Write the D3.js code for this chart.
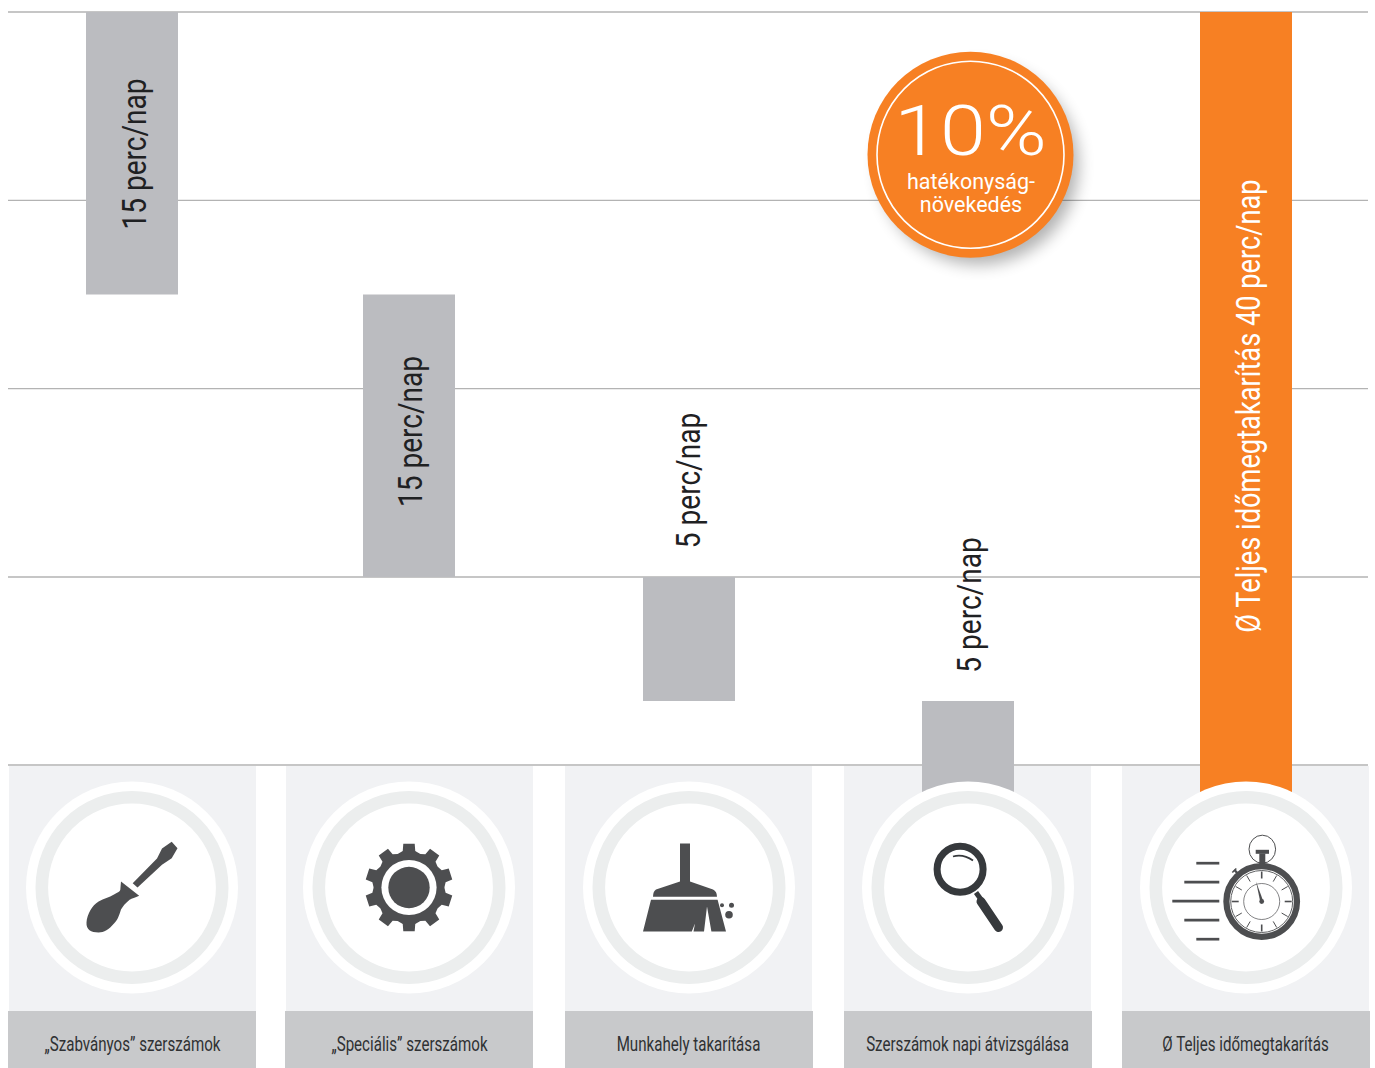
<!DOCTYPE html>
<html>
<head>
<meta charset="utf-8">
<script src="https://cdn.jsdelivr.net/npm/d3@7"></script>
<style>
    html, body { margin: 0; padding: 0; background: #fff; }
    svg { display: block; }
    .narrow { font-family: "Roboto", "Liberation Sans", sans-serif; }
    .badge { font-family: "Roboto", "Liberation Sans", sans-serif; fill: #fff; text-anchor: middle; }
</style>
</head>
<body>
<svg id="chart"></svg>
<script>
const categories = ["„Szabványos” szerszámok", "„Speciális” szerszámok", "Munkahely takarítása", "Szerszámok napi átvizsgálása", "Ø Teljes időmegtakarítás"];
const barTop = [40, 25, 10, 5, 40];
const barBottom = [25, 10, 5, 0, 0];
const barLabels = ["15 perc/nap", "15 perc/nap", "5 perc/nap", "5 perc/nap", "Ø Teljes időmegtakarítás 40 perc/nap"];
const gridValues = [0, 10, 20, 30, 40];

function initChart() {
    const width = 1375;
    const height = 1068;
    const iconColor = "#4d4e50";
    const orange = "#f78023";

    const svg = d3.select("#chart").attr("width", width).attr("height", height);

    const defs = svg.append("defs");
    defs.append("filter").attr("id", "shadow")
        .attr("x", "-30%").attr("y", "-30%").attr("width", "170%").attr("height", "170%")
        .append("feGaussianBlur").attr("stdDeviation", 8);

    // l'echelle de l'original n'est pas lineaire sous 10 minutes
    const y = d3.scaleLinear().domain([0, 5, 10, 40]).range([765, 701, 577, 12]);
    const x = d3.scaleOrdinal().domain(categories).range([132.5, 409.5, 688.5, 967.5, 1245.5]);
    // les deux premieres colonnes sont decalees d'un pixel dans l'original
    const nudge = (d, i) => i < 2 ? -1 : 0;

    // lignes de la grille
    const grid = svg.append("g")
        .attr("transform", "translate(8,-0.5)")
        .call(d3.axisRight(y).tickValues(gridValues).tickSize(1360).tickFormat(""));
    grid.select(".domain").remove();
    grid.selectAll("line").attr("stroke", "#b3b3b3").attr("stroke-width", 1.4);

    const panelWidth = 247;
    const boxWidth = 248;
    const circleY = 887.5;

    svg.selectAll(".panel").data(categories).enter().append("rect")
        .attr("class", "panel")
        .attr("x", d => x(d) - panelWidth / 2).attr("y", 766)
        .attr("width", panelWidth).attr("height", 246)
        .attr("fill", "#f1f2f4");

    svg.selectAll(".bar").data(categories).enter().append("rect")
        .attr("class", "bar")
        .attr("x", (d, i) => x(d) - 45.5 + nudge(d, i)).attr("width", 92)
        .attr("y", (d, i) => y(barTop[i]))
        // les barres qui arrivent a zero passent derriere le cercle
        .attr("height", (d, i) => y(barBottom[i]) - y(barTop[i]) + (barBottom[i] === 0 ? 27 : 0))
        .attr("fill", (d, i) => i === 4 ? orange : "#bbbcc0");

    svg.selectAll(".box").data(categories).enter().append("rect")
        .attr("class", "box")
        .attr("x", (d, i) => x(d) - 123.5 + nudge(d, i)).attr("y", 1011)
        .attr("width", boxWidth).attr("height", 57)
        .attr("fill", "#c8c9cb");

    // le texte d'origine est en condense : on resserre Roboto horizontalement
    svg.selectAll(".cat").data(categories).enter().append("text")
        .attr("class", "cat narrow")
        .attr("transform", d => `translate(${x(d)},1051) scale(0.775,1)`)
        .attr("text-anchor", "middle").attr("font-size", 19.5)
        .attr("fill", "#2f3133")
        .text(d => d);

    const icons = svg.selectAll(".icon").data(categories).enter().append("g")
        .attr("class", "icon")
        .attr("transform", (d, i) => `translate(${x(d) + 0.5 + nudge(d, i)},${circleY})`);
    icons.append("circle").attr("r", 106).attr("fill", "#fff");
    icons.append("circle").attr("r", 90.2).attr("fill", "#fff").attr("stroke", "#eceeee").attr("stroke-width", 12.6);

    icons.each(function (d, i) {
        [screwdriver, gear, broom, magnifier, stopwatch][i](d3.select(this));
    });

    function screwdriver(g) {
        g.append("path").attr("fill", iconColor)
            .attr("d", "M39.7,-45.7L45.5,-39.3L39.7,-29.3L30,-22.7L5.5,0L0.7,-4.3L25,-29L30,-39Z");
        g.append("path").attr("fill", iconColor)
            .attr("d", "M-11,-6L7.2,8.3C3,10 0,11 -2.4,12.3C-7,16 -9,19 -11,22C-13,28 -14,32 -18,36C-23,42 -28,45 -33.4,45C-41,45 -46,42 -45.5,35C-45,27 -40,18 -33.4,14C-28,11 -23,10 -18,7C-14,5 -12,4 -11.7,2.3Z");
    }

    function gear(g) {
        const pts = [];
        d3.range(10).forEach(k => {
            const a = (k / 10) * 2 * Math.PI - Math.PI / 2;
            [[-0.30, 35.5], [-0.17, 37], [-0.13, 44], [0.13, 44], [0.17, 37], [0.30, 35.5]].forEach(p => {
                pts.push([Math.cos(a + p[0]) * p[1], Math.sin(a + p[0]) * p[1]]);
            });
        });
        g.append("path").attr("fill", iconColor).attr("d", d3.line()(pts) + "Z");
        g.append("circle").attr("r", 27.6).attr("fill", "#fff");
        g.append("circle").attr("r", 20.7).attr("fill", iconColor);
    }

    function broom(g) {
        g.append("path").attr("fill", iconColor)
            .attr("d", "M-9,-44L1,-44L1,-6L24,2Q28,4 28,9.3L-36,9.3Q-36,4 -33,2L-9,-6Z");
        g.append("path").attr("fill", iconColor)
            .attr("d", "M-38,12.3L28.6,12.3L37,44L22.4,44L18,19L15,44L4.5,44L6,36L2.8,44L-46,44Z");
        [[33, 17.7, 2], [42.5, 17.7, 2.5], [40, 27.3, 3.8]].forEach(c => {
            g.append("circle").attr("cx", c[0]).attr("cy", c[1]).attr("r", c[2]).attr("fill", iconColor);
        });
    }

    function magnifier(g) {
        const dark = "#36393c";
        g.append("circle").attr("cx", -7.9).attr("cy", -18.3).attr("r", 23)
            .attr("fill", "none").attr("stroke", dark).attr("stroke-width", 7);
        g.append("path").attr("d", "M-15,-31Q-5,-34 5,-27")
            .attr("fill", "none").attr("stroke", dark).attr("stroke-width", 1.8);
        g.append("line").attr("x1", 8).attr("y1", 5).attr("x2", 13).attr("y2", 12)
            .attr("stroke", dark).attr("stroke-width", 5);
        g.append("line").attr("x1", 13).attr("y1", 14).attr("x2", 30.5).attr("y2", 40)
            .attr("stroke", dark).attr("stroke-width", 9).attr("stroke-linecap", "round");
    }

    function stopwatch(g) {
        const cx = 15.7, cy = 14;
        g.append("ellipse").attr("cx", 16.3).attr("cy", -38.3).attr("rx", 13.3).attr("ry", 14)
            .attr("fill", "#fff").attr("stroke", iconColor).attr("stroke-width", 1);
        g.append("rect").attr("x", 9.7).attr("y", -37.7).attr("width", 13.3).attr("height", 4).attr("fill", iconColor);
        g.append("rect").attr("x", 13.3).attr("y", -34).attr("width", 6).attr("height", 12).attr("fill", iconColor);
        g.append("line").attr("x1", -11.7).attr("y1", -17.7).attr("x2", -7).attr("y2", -12.5)
            .attr("stroke", iconColor).attr("stroke-width", 2.4);
        g.append("line").attr("x1", -13.7).attr("y1", -15).attr("x2", -9.7).attr("y2", -19)
            .attr("stroke", iconColor).attr("stroke-width", 1.6);
        g.append("circle").attr("cx", cx).attr("cy", cy).attr("r", 35.3)
            .attr("fill", "#fff").attr("stroke", iconColor).attr("stroke-width", 6.2);
        g.append("circle").attr("cx", cx).attr("cy", cy).attr("r", 31)
            .attr("fill", "none").attr("stroke", iconColor).attr("stroke-width", 0.9);
        g.append("circle").attr("cx", cx).attr("cy", cy).attr("r", 18)
            .attr("fill", "none").attr("stroke", iconColor).attr("stroke-width", 0.7);
        d3.range(12).forEach(k => {
            const a = k / 12 * 2 * Math.PI;
            g.append("line")
                .attr("x1", cx + Math.cos(a) * 23).attr("y1", cy + Math.sin(a) * 23)
                .attr("x2", cx + Math.cos(a) * 30).attr("y2", cy + Math.sin(a) * 30)
                .attr("stroke", iconColor).attr("stroke-width", k % 3 === 0 ? 1.6 : 1);
        });
        g.append("path").attr("fill", iconColor).attr("d", "M10,-6L14.2,14L17.2,13.4Z");
        g.append("circle").attr("cx", cx).attr("cy", cy).attr("r", 2.4).attr("fill", iconColor);
        [[-49.7, -24.3], [-61.7, -5.3], [-73.7, 13.7], [-61.7, 32.7], [-49.7, 51.7]].forEach(s => {
            g.append("line").attr("x1", s[0]).attr("y1", s[1]).attr("x2", -26.7).attr("y2", s[1])
                .attr("stroke", iconColor).attr("stroke-width", 2.7);
        });
    }

    // textes verticaux
    const labelBase = [145.5, 421.5, 700, 981, 1259.5];
    const labelMid = [154, 431.5, 480.5, 605, 406];
    svg.selectAll(".bar-label").data(barLabels).enter().append("text")
        .attr("class", "bar-label narrow")
        .attr("transform", (d, i) => `translate(${labelBase[i]},${labelMid[i]}) rotate(-90) scale(${i === 4 ? 0.825 : 0.85},1)`)
        .attr("text-anchor", "middle").attr("font-size", 33)
        .attr("fill", (d, i) => i === 4 ? "#fff" : "#1f2123")
        .text(d => d);

    // pastille 10%
    const badge = svg.append("g").attr("transform", "translate(970.5,154.7)");
    badge.append("circle").attr("cx", 8).attr("cy", 10).attr("r", 100)
        .attr("fill", "#000").attr("opacity", 0.3).attr("filter", "url(#shadow)");
    badge.append("circle").attr("r", 103).attr("fill", orange);
    badge.append("circle").attr("r", 93.5).attr("fill", "none").attr("stroke", "#fff").attr("stroke-width", 1.6);
    badge.append("text").attr("class", "badge").attr("transform", "scale(1.18,1)")
        .attr("font-size", 70).attr("font-weight", 300).text("10%");
    badge.append("text").attr("class", "badge").attr("x", 0.5).attr("y", 34)
        .attr("font-size", 21.5).text("hatékonyság-");
    badge.append("text").attr("class", "badge").attr("x", 0.5).attr("y", 57)
        .attr("font-size", 21.5).text("növekedés");
}

initChart();
</script>
</body>
</html>
